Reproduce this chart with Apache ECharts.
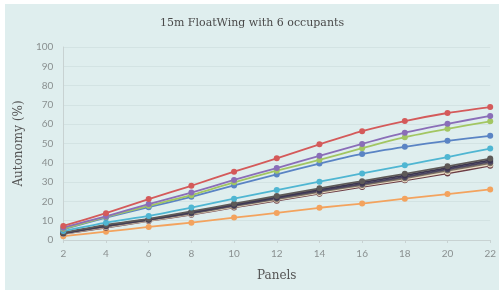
<!DOCTYPE html>
<html><head><meta charset="utf-8">
<script src="https://cdn.jsdelivr.net/npm/echarts@6/dist/echarts.min.js"></script>
<style>
html,body{margin:0;padding:0;background:#fff;width:499px;height:292px;overflow:hidden}
#c{position:absolute;left:5px;top:4px;width:494px;height:286px;background:#dfeeee}
</style></head><body><div id="c"></div>
<script>
const categories = ['2','4','6','8','10','12','14','16','18','20','22'];
const sRed    = [7.3, 13.9, 21.2, 28.1, 35.4, 42.3, 49.6, 56.4, 61.6, 65.8, 68.9];
const sPurple = [6.4, 12.3, 18.6, 24.6, 31.1, 37.3, 43.6, 49.8, 55.6, 60.2, 64.3];
const sGreen  = [5.8, 12.0, 17.7, 23.2, 29.9, 35.9, 41.5, 47.6, 53.3, 57.6, 61.5];
const sBlue   = [5.5, 11.6, 17.0, 22.4, 28.3, 34.0, 39.6, 44.6, 48.3, 51.4, 54.0];
const sCyan   = [4.6, 9.0, 12.5, 16.8, 21.4, 25.9, 30.2, 34.5, 38.7, 43.0, 47.4];
const sDark1  = [3.8, 7.8, 11.0, 14.8, 18.8, 22.8, 26.8, 30.5, 34.3, 38.2, 42.2];
const sDark2  = [3.6, 7.5, 10.7, 14.4, 18.3, 22.2, 26.1, 29.8, 33.5, 37.4, 41.4];
const sDark3  = [3.5, 7.2, 10.5, 14.0, 17.9, 21.7, 25.5, 29.1, 32.7, 36.7, 40.6];
const sDark4  = [3.4, 7.0, 10.3, 13.7, 17.5, 21.2, 24.9, 28.5, 32.0, 36.0, 39.8];
const sDark5  = [3.3, 6.7, 10.1, 13.4, 17.2, 20.8, 24.4, 28.0, 31.4, 35.2, 39.1];
const sDark6  = [3.2, 6.4, 9.9, 13.1, 16.9, 20.4, 24.0, 27.5, 30.9, 34.5, 38.5];
const sOrange = [2.0, 4.3, 6.8, 9.0, 11.6, 14.0, 16.7, 18.9, 21.4, 23.8, 26.2];

const seriesList = [
  ['Orange', sOrange, '#f3a35e'],
  ['Dark6', sDark6, '#6b3d45'],
  ['Dark5', sDark5, '#e9dcc4'],
  ['Dark4', sDark4, '#7a7064'],
  ['Dark3', sDark3, '#4a4560'],
  ['Dark2', sDark2, '#3c3550'],
  ['Dark1', sDark1, '#5e5a58'],
  ['Cyan', sCyan, '#4fb6d2'],
  ['Blue', sBlue, '#5a84c4'],
  ['Green', sGreen, '#a2c662'],
  ['Purple', sPurple, '#8a6eb8'],
  ['Red', sRed, '#d45a5a']
];

const chart = echarts.init(document.getElementById('c'), null, {renderer:'canvas'});
chart.setOption({
  backgroundColor: '#dfeeee',
  animation: false,
  title: {
    text: '15m FloatWing with 6 occupants',
    left: 'center', top: 9,
    textStyle: {fontFamily: 'DejaVu Serif', fontSize: 11, fontWeight: 'normal', color: '#4a4a4a'}
  },
  grid: {left: 50, right: 6, top: 43, bottom: 50},
  xAxis: {
    type: 'category', data: categories, boundaryGap: false,
    name: 'Panels', nameLocation: 'middle', nameGap: 30,
    nameTextStyle: {fontFamily: 'DejaVu Serif', fontSize: 12, color: '#555'},
    axisLine: {lineStyle: {color: '#c8d2d2'}},
    axisTick: {show: true, length: 3, lineStyle: {color: '#c8d2d2'}},
    axisLabel: {fontFamily: 'Lato', fontSize: 10, color: '#8a9090', margin: 9},
    splitLine: {show: false}
  },
  yAxis: {
    type: 'value', min: 0, max: 100, interval: 10,
    name: 'Autonomy (%)', nameLocation: 'middle', nameGap: 32,
    nameTextStyle: {fontFamily: 'DejaVu Serif', fontSize: 12, color: '#555'},
    axisLine: {show: true, lineStyle: {color: '#c8d2d2'}},
    axisTick: {show: false},
    axisLabel: {fontFamily: 'Lato', fontSize: 10, color: '#8a9090', margin: 10},
    splitLine: {lineStyle: {color: '#d3e3e3', width: 1}}
  },
  series: seriesList.map(([name, data, color]) => ({
    name, type: 'line', data, smooth: 0.2,
    symbol: 'circle', symbolSize: 6,
    lineStyle: {color, width: 1.8},
    itemStyle: {color},
    z: 2
  }))
});
</script></body></html>
